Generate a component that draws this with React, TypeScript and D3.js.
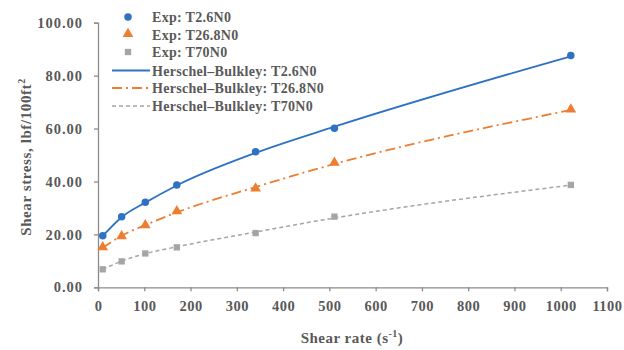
import React, { useEffect, useRef } from "react";
import * as d3 from "d3";

// shear rates (1/s)
const shearRates = [10.2, 51.1, 102.2, 170.3, 340.6, 510.9, 1021.8];

// measured shear stress (lbf/100ft2)
const expT26 = [19.5, 26.7, 32.1, 38.7, 51.2, 60.1, 87.6];
const expT268 = [15.0, 19.1, 23.3, 28.6, 37.2, 46.9, 67.0];
const expT70 = [6.8, 9.8, 12.8, 15.1, 20.5, 26.7, 38.7];

// Herschel-Bulkley fit at the same shear rates
const fitT26 = [19.4, 26.5, 32.0, 38.5, 50.8, 60.7, 87.3];
const fitT268 = [14.9, 19.5, 23.5, 28.3, 37.9, 46.6, 67.0];
const fitT70 = [6.7, 9.9, 12.7, 15.3, 20.9, 26.2, 38.6];

const xTicks = [0, 100, 200, 300, 400, 500, 600, 700, 800, 900, 1000, 1100];
const yTicks = [0, 20, 40, 60, 80, 100];

const legendLabels = [
  "Exp: T2.6N0",
  "Exp: T26.8N0",
  "Exp: T70N0",
  "Herschel\u2013Bulkley: T2.6N0",
  "Herschel\u2013Bulkley: T26.8N0",
  "Herschel\u2013Bulkley: T70N0",
];

const BLUE = "#2f72c4";
const ORANGE = "#ed7d31";
const GRAY = "#a5a5a5";
const TEXT = "#595959";
const FONT = "'Liberation Serif', 'Times New Roman', serif";

const App = () => {
  const ref = useRef<SVGSVGElement>(null);

  useEffect(() => {
    const svg = d3.select(ref.current);
    svg.selectAll("*").remove();

    const x = d3.scaleLinear().domain([0, 1100]).range([98, 607]);
    const y = d3.scaleLinear().domain([0, 100]).range([287.3, 22.7]);

    // axes
    const xAxis = svg.append("g")
      .attr("transform", `translate(0,${y(0)})`)
      .call(d3.axisBottom(x).tickValues(xTicks).tickSize(4).tickPadding(9).tickFormat(d3.format("d")));
    const yAxis = svg.append("g")
      .attr("transform", `translate(${x(0)},0)`)
      .call(d3.axisLeft(y).tickValues(yTicks).tickSize(4).tickPadding(11).tickFormat(d3.format(".2f")));

    [xAxis, yAxis].forEach((a) => {
      a.select(".domain").attr("stroke", "#8c8c8c").attr("stroke-width", 1.3);
      a.selectAll(".tick line").attr("stroke", "#8c8c8c").attr("stroke-width", 1.3);
      a.selectAll(".tick text")
        .attr("fill", TEXT)
        .style("font-family", FONT)
        .style("font-weight", "bold")
        .style("font-size", "14.5px");
    });
    yAxis.selectAll(".tick text").style("letter-spacing", "1px");
    xAxis.selectAll(".tick text").style("letter-spacing", "0.5px");

    // axis titles
    svg.append("text")
      .attr("transform", `translate(31,${(y(0) + y(100)) / 2 + 2}) rotate(-90)`)
      .attr("text-anchor", "middle")
      .attr("fill", TEXT)
      .style("font-family", FONT)
      .style("font-weight", "bold")
      .style("font-size", "15px")
      .style("letter-spacing", "0.6px")
      .html("Shear stress, lbf/100ft<tspan dy='-6' font-size='10px'>2</tspan>");

    svg.append("text")
      .attr("x", 352)
      .attr("y", 343)
      .attr("text-anchor", "middle")
      .attr("fill", TEXT)
      .style("font-family", FONT)
      .style("font-weight", "bold")
      .style("font-size", "15px")
      .style("letter-spacing", "0.5px")
      .html("Shear rate (s<tspan dy='-6' font-size='10px'>-1</tspan><tspan dy='6'>)</tspan>");

    const line = d3.line<number>()
      .x((_, i) => x(shearRates[i]))
      .y((d) => y(d))
      .curve(d3.curveMonotoneX);

    const fits = [
      { values: fitT26, color: BLUE, dash: null, width: 1.8 },
      { values: fitT268, color: ORANGE, dash: "10,4,2,4", width: 1.8 },
      { values: fitT70, color: GRAY, dash: "4,3", width: 1.5 },
    ];

    fits.forEach((f) => {
      svg.append("path")
        .datum(f.values)
        .attr("d", line)
        .attr("fill", "none")
        .attr("stroke", f.color)
        .attr("stroke-width", f.width)
        .attr("stroke-dasharray", f.dash);
    });

    const circle = d3.symbol().type(d3.symbolCircle).size(44);
    const tri = d3.symbol().type(d3.symbolTriangle).size(50);
    const square = d3.symbol().type(d3.symbolSquare).size(40);

    const exps = [
      { values: expT26, color: BLUE, sym: circle, dy: 0 },
      { values: expT268, color: ORANGE, sym: tri, dy: -0.5 },
      { values: expT70, color: GRAY, sym: square, dy: 0 },
    ];

    exps.forEach((e) => {
      svg.append("g")
        .selectAll("path")
        .data(e.values)
        .enter()
        .append("path")
        .attr("d", e.sym)
        .attr("transform", (d, i) => `translate(${x(shearRates[i])},${y(d) + e.dy})`)
        .attr("fill", e.color);
    });

    // legend
    const legend = svg.append("g");
    const rowY = [17, 34.5, 52, 70.5, 88, 106];
    legendLabels.forEach((label, i) => {
      legend.append("text")
        .attr("x", 152)
        .attr("y", rowY[i] + 5)
        .attr("fill", TEXT)
        .style("font-family", FONT)
        .style("font-weight", "bold")
        .style("font-size", "14px")
        .style("letter-spacing", "0.3px")
        .text(label);
    });
    exps.forEach((e, i) => {
      legend.append("path")
        .attr("d", e.sym)
        .attr("transform", `translate(128,${rowY[i] + e.dy})`)
        .attr("fill", e.color);
    });
    fits.forEach((f, i) => {
      legend.append("line")
        .attr("x1", 112)
        .attr("x2", 150)
        .attr("y1", rowY[i + 3])
        .attr("y2", rowY[i + 3])
        .attr("stroke", f.color)
        .attr("stroke-width", f.width)
        .attr("stroke-dasharray", f.dash);
    });
  }, []);

  return (
    <svg
      ref={ref}
      width={624}
      height={350}
      style={{ position: "absolute", left: 0, top: 0, background: "#fff" }}
    />
  );
};

export default App;
